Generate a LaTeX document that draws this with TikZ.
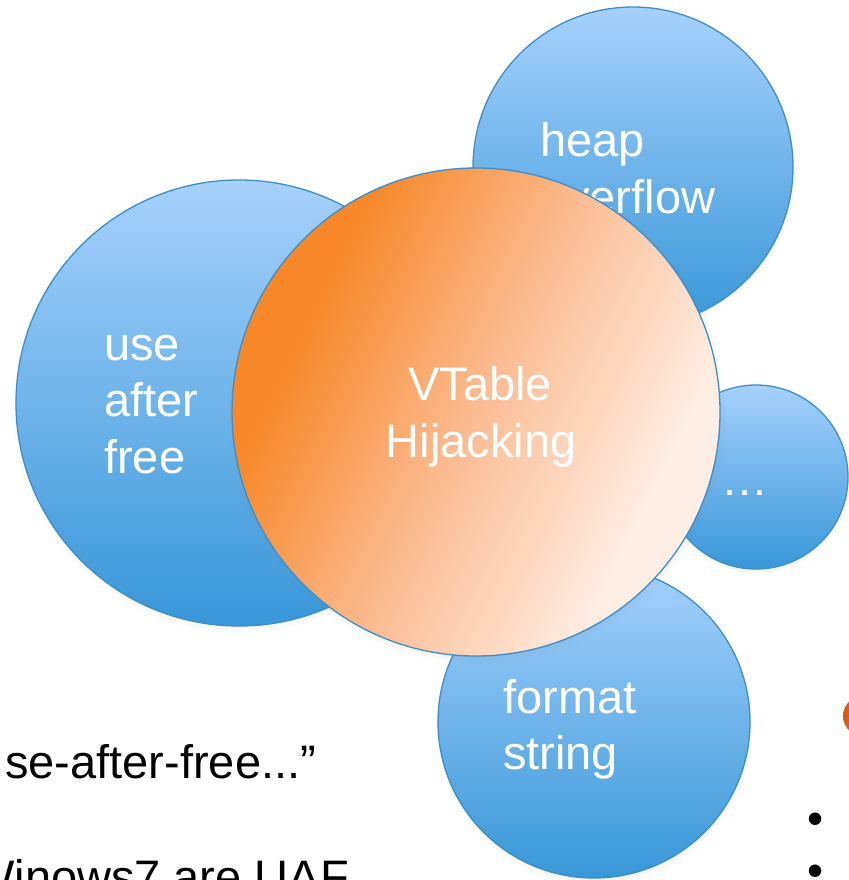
\documentclass[tikz,border=0pt]{standalone}
\usepackage{fontspec}
\setmainfont{Liberation Sans}
\usetikzlibrary{shadows,fadings}

% palette
\definecolor{bubbleTop}{RGB}{166,209,252}
\definecolor{bubbleBot}{RGB}{56,151,216}
\definecolor{rimBlue}{RGB}{61,142,201}
\definecolor{coreDark}{RGB}{247,135,40}
\definecolor{coreMid}{RGB}{251,188,146}
\definecolor{coreLight}{RGB}{254,237,226}
\definecolor{flameA}{RGB}{214,90,20}
\definecolor{flameB}{RGB}{245,150,60}

% diagonal orange fill of the central bubble
\pgfdeclareverticalshading{coreshade}{100bp}{%
  color(0bp)=(coreLight); color(30bp)=(coreLight);
  color(50bp)=(coreMid); color(70bp)=(coreDark); color(100bp)=(coreDark)}

\tikzset{
  bubble/.style={circle, draw=rimBlue, line width=1.3pt, inner sep=0pt,
    top color=bubbleTop, bottom color=bubbleBot,
    circular drop shadow={shadow scale=1.02, shadow xshift=0pt,
      shadow yshift=-3pt, opacity=0.3}},
  core/.style={circle, draw=rimBlue, line width=1.3pt, inner sep=0pt,
    shade, shading=coreshade, shading angle=64,
    circular drop shadow={shadow scale=1.02, shadow xshift=1pt,
      shadow yshift=-3pt, opacity=0.35}},
  bubbletext/.style={text=white, font=\fontsize{47}{56}\selectfont,
    inner sep=0pt, anchor=base west},
  coretext/.style={bubbletext, anchor=base},
  bodytext/.style={text=black, font=\fontsize{47}{56}\selectfont,
    inner sep=0pt, anchor=base west},
  bulletmark/.style={text=black, font=\fontsize{46}{46}\selectfont,
    inner sep=0pt},
}

\begin{document}
\begin{tikzpicture}[x=1pt, y=-1pt]
  \fill[white] (0,0) rectangle (848,880);
  \useasboundingbox (0,0) rectangle (848,880);

  % outer bubbles
  \node[bubble, minimum size=446pt] (uaf) at (239,403) {};
  \node[bubbletext] (uaf1) at (104,360) {use};
  \node[bubbletext] (uaf2) at (104,416) {after};
  \node[bubbletext] (uaf3) at (104,473) {free};

  \node[bubble, minimum size=320pt] (heap) at (633,167) {};
  \node[bubbletext] (heap1) at (540,157) {heap};
  \node[bubbletext] (heap2) at (540,213) {overflow};

  \node[bubble, minimum size=184pt] (more) at (756,477) {};
  \node[bubbletext, anchor=base] (more1) at (745,495) {…};

  \node[bubble, minimum size=312pt] (fmt) at (594,722) {};
  \node[bubbletext] (fmt1) at (503,713) {format};
  \node[bubbletext] (fmt2) at (503,769) {string};

  % central bubble
  \node[core, minimum size=488pt] (vt) at (476,412) {};
  \node[coretext] (vt1) at (480,400) {VTable};
  \node[coretext] (vt2) at (481,457) {Hijacking};

  % surrounding slide text
  \node[bodytext] (quote) at (5,778) {se-after-free...”};
  \node[bodytext] (note) at (-30,893) {Winows7 are UAF};

  \node[bulletmark] (b1) at (816,824) {•};
  \node[bulletmark] (b2) at (816,876) {•};

  % orange mark at the right edge
  \shade[left color=flameA, right color=flameB] (868,716) ellipse [x radius=25, y radius=22];
\end{tikzpicture}
\end{document}
